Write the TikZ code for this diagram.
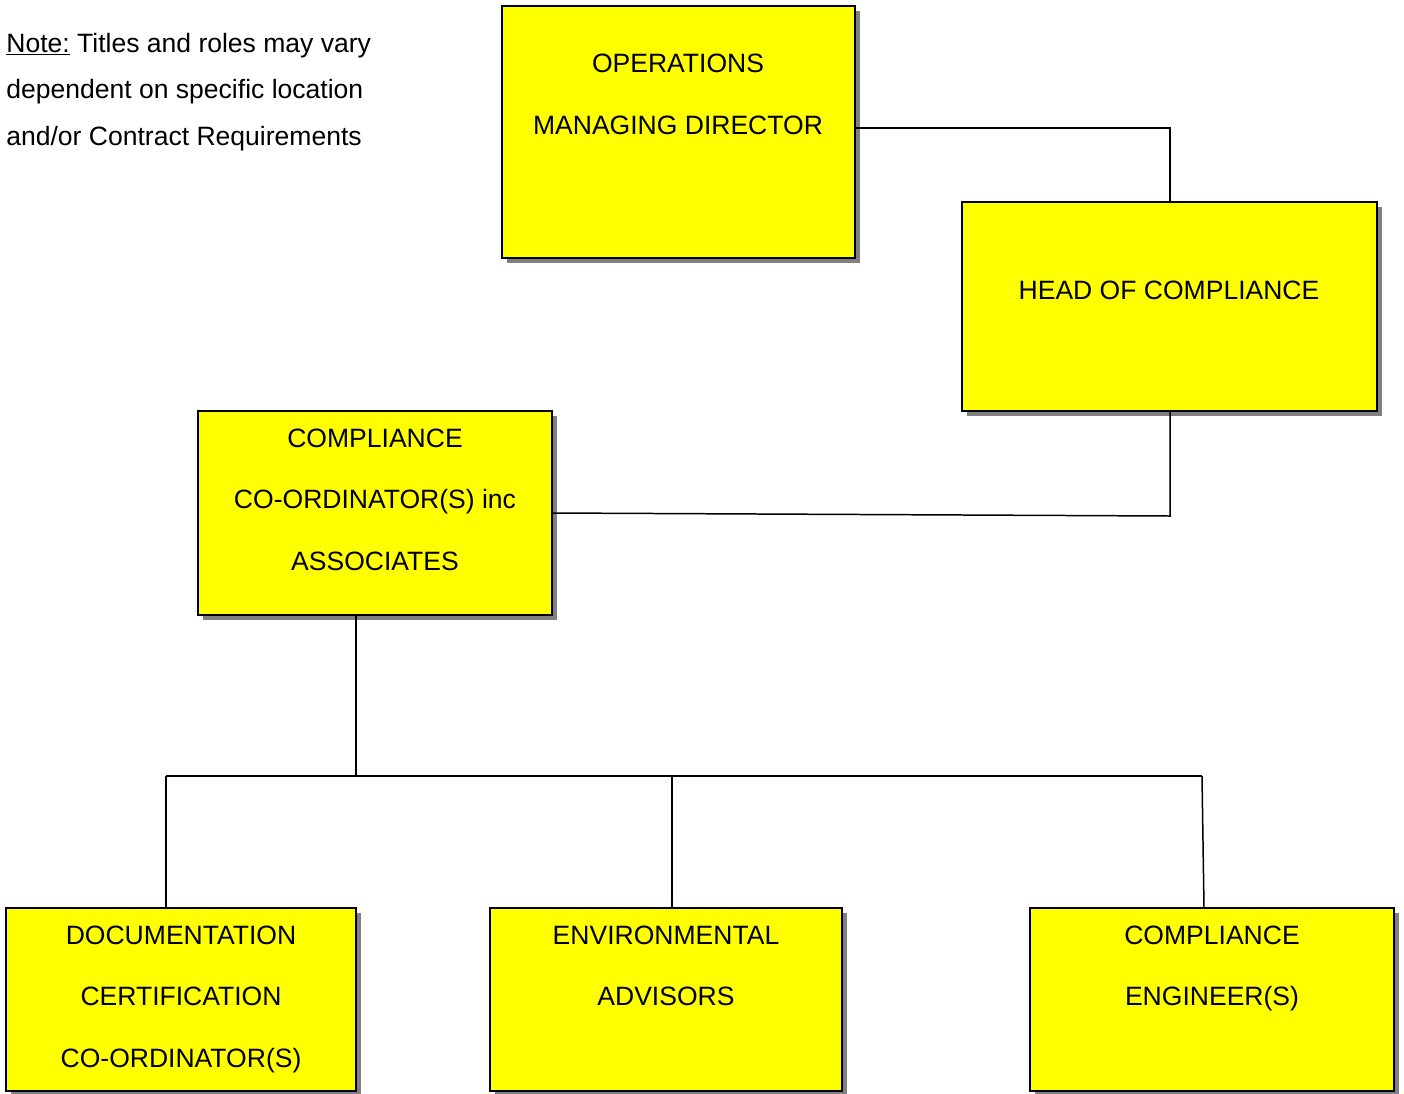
\documentclass[tikz,border=0pt]{standalone}
\usepackage{fontspec}
\setmainfont{Liberation Sans}
\usetikzlibrary{shadows,calc}
\definecolor{yel}{RGB}{255,255,0}
\definecolor{shd}{RGB}{128,128,128}
\begin{document}
\begin{tikzpicture}[x=0.02cm,y=-0.02cm,
  box/.style={draw=black,line width=1.1pt,fill=yel,inner sep=0pt,
    drop shadow={shadow xshift=0.1cm,shadow yshift=-0.1cm,fill=shd,opacity=1}},
  lbl/.style={anchor=base,inner sep=0pt,font=\fontsize{15.1}{18}\selectfont},
  conn/.style={draw=black,line width=0.85pt}]
\useasboundingbox (0,0) rectangle (1404,1093);
% boxes
\node[box,minimum width=353*0.02cm,minimum height=252*0.02cm] (b1) at (678.5,132) {};
\node[box,minimum width=415*0.02cm,minimum height=209*0.02cm] (b2) at (1169.5,306.5) {};
\node[box,minimum width=354*0.02cm,minimum height=204*0.02cm] (b3) at (375,513) {};
\node[box,minimum width=350*0.02cm,minimum height=183*0.02cm] (b4) at (181,999.5) {};
\node[box,minimum width=352*0.02cm,minimum height=183*0.02cm] (b5) at (666,999.5) {};
\node[box,minimum width=364*0.02cm,minimum height=183*0.02cm] (b6) at (1212,999.5) {};
% texts
\node[lbl] (t1a) at (678,72) {OPERATIONS};
\node[lbl] (t1b) at (678,134) {MANAGING DIRECTOR};
\node[lbl] (t2) at (1169,299) {HEAD OF COMPLIANCE};
\node[lbl] (t3a) at (375,447) {COMPLIANCE};
\node[lbl] (t3b) at (375,508) {CO-ORDINATOR(S) inc};
\node[lbl] (t3c) at (375,570) {ASSOCIATES};
\node[lbl] (t4a) at (181,944) {DOCUMENTATION};
\node[lbl] (t4b) at (181,1005) {CERTIFICATION};
\node[lbl] (t4c) at (181,1067) {CO-ORDINATOR(S)};
\node[lbl] (t5a) at (666,944) {ENVIRONMENTAL};
\node[lbl] (t5b) at (666,1005) {ADVISORS};
\node[lbl] (t6a) at (1212,944) {COMPLIANCE};
\node[lbl] (t6b) at (1212,1005) {ENGINEER(S)};
\node[lbl,anchor=base west] (n1) at (6,52) {\underline{Note:} Titles and roles may vary};
\node[lbl,anchor=base west] (n2) at (6,98) {dependent on specific location};
\node[lbl,anchor=base west] (n3) at (6,145) {and/or Contract Requirements};
% connector points
\coordinate (c1) at (1170,128);
\coordinate (c2) at (1170,516);
\coordinate (c3) at (356,776);
\coordinate (c4) at (166,776);
\coordinate (c5) at (1202,776);
\coordinate (c6) at (672,776);
\coordinate (c7) at (1204,908);
% connectors
\draw[conn] (b1.east |- c1) -- (c1) -- (b2.north -| c1);
\draw[conn] (b2.south -| c2) -- (c2) -- (b3.east);
\draw[conn] (b3.south -| c3) -- (c3);
\draw[conn] (c4) -- (c5);
\draw[conn] (c4) -- (b4.north -| c4);
\draw[conn] (c6) -- (b5.north -| c6);
\draw[conn] (c5) -- (b6.north -| c7);
\end{tikzpicture}
\end{document}
